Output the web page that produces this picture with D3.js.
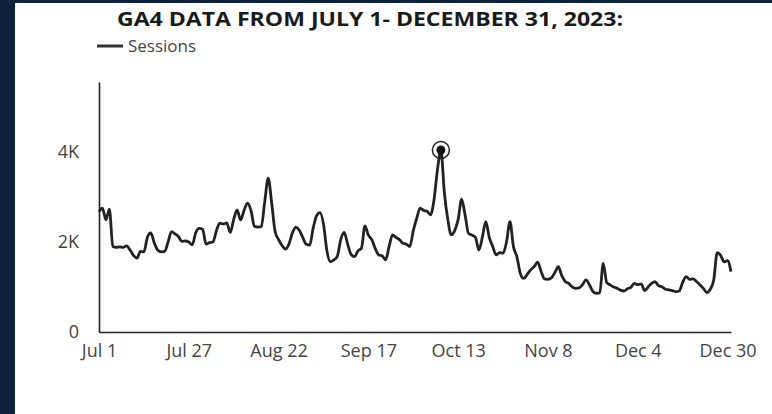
<!DOCTYPE html>
<html>
<head>
<meta charset="utf-8">
<script src="https://cdn.jsdelivr.net/npm/d3@7"></script>
<style>
  html, body { margin: 0; padding: 0; background: #0e2239; }
  #chart { width: 772px; height: 414px; }
  .tick text { font-family: "Open Sans", sans-serif; fill: #444; }
</style>
</head>
<body>
<div id="chart"></div>
<script>
// --- data: GA4 daily sessions, Jul 1 - Dec 31 2023 ---
const startDate = "2023-07-01";
const sessions = [
  2670, 2750, 2490, 2730, 1900, 1880, 1890, 1880, 1910, 1820,
  1700, 1640, 1790, 1780, 2100, 2200, 1980, 1820, 1780, 1790,
  2000, 2230, 2180, 2120, 2010, 2020, 2000, 1935, 2200, 2300,
  2280, 1950, 1985, 2000, 2250, 2415, 2400, 2420, 2210, 2500,
  2710, 2490, 2700, 2860, 2700, 2350, 2330, 2340, 2900, 3415,
  2865, 2230, 2050, 1920, 1840, 1950, 2200, 2325, 2260, 2100,
  1950, 1930, 2300, 2580, 2650, 2400, 1800, 1560, 1600, 1680,
  2050, 2210, 1950, 1720, 1675, 1800, 1860, 2355, 2150, 2050,
  1850, 1710, 1690, 1600, 1900, 2155, 2100, 2050, 1970, 1950,
  1895, 2250, 2525, 2750, 2700, 2680, 2600, 2930, 3600, 4040,
  3100, 2500, 2155, 2250, 2500, 2950, 2600, 2190, 2150, 2100,
  1820, 2100, 2450, 2100, 1900, 1710, 1760, 1750, 2000, 2450,
  1895, 1675, 1300, 1190, 1280, 1380, 1450, 1550, 1350, 1180,
  1170, 1200, 1320, 1450, 1250, 1120, 1080, 1000, 970, 980,
  1050, 1155, 1050, 900, 860, 870, 1525, 1100, 1045, 1000,
  970, 930, 910, 960, 990, 1080, 1050, 1070, 920, 1000,
  1080, 1120, 1030, 1005, 950, 935, 920, 895, 910, 1100,
  1230, 1170, 1180, 1120, 1050, 970, 875, 950, 1155, 1760,
  1700, 1560, 1585, 1340
];
const xTickLabels = ["Jul 1", "Jul 27", "Aug 22", "Sep 17", "Oct 13", "Nov 8", "Dec 4", "Dec 30"];
const yTickValues = [0, 2000, 4000];
const yTickLabels = ["0", "2K", "4K"];
const titleText = "GA4 DATA FROM JULY 1- DECEMBER 31, 2023:";
const seriesName = "Sessions";

// --- canvas ---
const W = 772, H = 414;
const svg = d3.select("#chart").append("svg")
  .attr("width", W)
  .attr("height", H);

// white panel (dark frame shows on the left and top)
svg.append("rect")
  .attr("x", 15).attr("y", 3)
  .attr("width", W - 15).attr("height", H - 3)
  .attr("fill", "#ffffff");

// --- scales ---
const parseDay = d3.timeParse("%Y-%m-%d");
const start = parseDay(startDate);
const data = sessions.map((v, i) => ({ date: d3.timeDay.offset(start, i), value: v }));

const x = d3.scaleTime()
  .domain([start, data[data.length - 1].date])
  .range([99, 731]);

const y = d3.scaleLinear()
  .domain([0, 5550])
  .range([332, 82]);

// --- axes ---
const parseTick = d3.timeParse("%b %d %Y");
const xTickDates = xTickLabels.map(l => parseTick(l + " 2023"));

const xAxis = svg.append("g")
  .attr("transform", "translate(0,332)")
  .call(d3.axisBottom(x)
    .tickValues(xTickDates)
    .tickFormat((d, i) => xTickLabels[i])
    .tickSize(0)
    .tickPadding(12));
xAxis.select(".domain").attr("stroke", "#222").attr("stroke-width", 1.6);
xAxis.selectAll(".tick text").style("font-size", "18px");

const yAxis = svg.append("g")
  .attr("transform", "translate(99,0)")
  .call(d3.axisLeft(y)
    .tickValues(yTickValues)
    .tickFormat((d, i) => yTickLabels[i])
    .tickSize(0)
    .tickPadding(20));
yAxis.select(".domain").attr("stroke", "#222").attr("stroke-width", 1.6);
yAxis.selectAll(".tick text").style("font-size", "18px");

// --- line ---
const line = d3.line()
  .x(d => x(d.date))
  .y(d => y(d.value))
  .curve(d3.curveMonotoneX);

svg.append("path")
  .datum(data)
  .attr("d", line)
  .attr("fill", "none")
  .attr("stroke", "#222")
  .attr("stroke-width", 2.8)
  .attr("stroke-linejoin", "round");

// peak marker
const peak = data.reduce((a, b) => (b.value > a.value ? b : a));
svg.append("circle")
  .attr("cx", x(peak.date)).attr("cy", y(peak.value))
  .attr("r", 8.5)
  .attr("fill", "none")
  .attr("stroke", "#222")
  .attr("stroke-width", 1.5);
svg.append("circle")
  .attr("cx", x(peak.date)).attr("cy", y(peak.value))
  .attr("r", 4.5)
  .attr("fill", "#111");

// --- title ---
svg.append("text")
  .attr("x", 117).attr("y", 26)
  .attr("textLength", 506)
  .attr("lengthAdjust", "spacingAndGlyphs")
  .style("font-family", "'Open Sans', sans-serif")
  .style("font-weight", "bold")
  .style("font-size", "20px")
  .style("fill", "#1a1a1a")
  .text(titleText);

// --- legend ---
svg.append("line")
  .attr("x1", 97).attr("x2", 123)
  .attr("y1", 46).attr("y2", 46)
  .attr("stroke", "#333")
  .attr("stroke-width", 3);
svg.append("text")
  .attr("x", 128).attr("y", 52)
  .style("font-family", "'Open Sans', sans-serif")
  .style("font-size", "17px")
  .style("fill", "#444")
  .text(seriesName);
</script>
</body>
</html>
